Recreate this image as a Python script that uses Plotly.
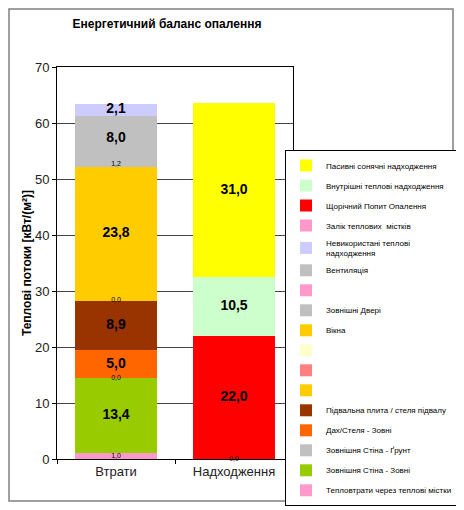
import plotly.graph_objects as go

categories = ["Втрати", "Надходження"]

series_names = [
    "Тепловтрати через теплові містки",
    "Зовнішня Стіна - Зовні",
    "Зовнішня Стіна - Ґрунт",
    "Дах/Стеля - Зовні",
    "Підвальна плита / стеля підвалу",
    " ",
    " ",
    " ",
    "Вікна",
    "Зовнішні Двері",
    " ",
    "Вентиляція",
    "Невикористані теплові<br>надходження",
    "Залік теплових  містків",
    "Щорічний Попит Опалення",
    "Внутрішні теплові надходження",
    "Пасивні сонячні надходження",
]

losses = [1.0, 13.4, 0.0, 5.0, 8.9, 0.0, None, None, 23.8, 1.2, None, 8.0, 2.1, None, None, None, None]
gains = [None, None, None, None, None, None, None, None, None, None, None, None, None, 0.0, 22.0, 10.5, 31.0]

colors = [
    "#FF99CC", "#99CC00", "#C0C0C0", "#FF6600", "#993300",
    "#FFCC00", "#FF8080", "#FFFFCC", "#FFCC00", "#C0C0C0",
    "#FF99CC", "#C0C0C0", "#CCCCFF", "#FF99CC", "#FF0000",
    "#CCFFCC", "#FFFF00",
]

FONT = "Arial, Liberation Sans, sans-serif"
N = len(series_names)

fig = go.Figure()
for i, name in enumerate(series_names):
    fig.add_trace(go.Bar(
        x=categories, y=[losses[i], gains[i]], name=name,
        marker=dict(color=colors[i], line=dict(width=0)),
        legendgroup=f"g{i}", legendrank=100 + (N - i),
        hoverinfo="skip",
    ))

# data labels at segment centres
big_x, big_y, big_t = [], [], []
sm_x, sm_y, sm_t = [], [], []
for ci, cat in enumerate(categories):
    base = 0.0
    for i in range(N):
        v = (losses, gains)[ci][i]
        if v is None:
            continue
        yc = base + v / 2
        txt = f"{v:.1f}".replace(".", ",")
        if v < 2:
            sm_x.append(cat); sm_y.append(yc); sm_t.append(txt)
        else:
            big_x.append(cat); big_y.append(yc); big_t.append(txt)
        base += v

fig.add_trace(go.Scatter(x=big_x, y=big_y, text=big_t, mode="text", showlegend=False,
                         textfont=dict(family=FONT, size=14, color="black", weight="bold"),
                         cliponaxis=False, hoverinfo="skip"))
fig.add_trace(go.Scatter(x=sm_x, y=sm_y, text=sm_t, mode="text", showlegend=False,
                         textfont=dict(family=FONT, size=7, color="black"),
                         cliponaxis=False, hoverinfo="skip"))

# page body has an 8px margin: work in screen coords minus 8
OFF = 8
W, H = 456, 502
L, T = 57 - OFF, 67 - OFF
PR, PB = 293 - OFF, 459 - OFF
R, B = W - PR, H - PB
pw, ph = PR - L, PB - T

def px(x):
    return (x - OFF - L) / pw

def py(y):
    return (PB - (y - OFF)) / ph

fig.add_shape(type="rect", xref="paper", yref="paper",
              x0=px(OFF + 1), x1=px(453), y0=py(501), y1=py(OFF + 1),
              line=dict(color="#808080", width=1.5), layer="below")

fig.update_layout(
    width=W, height=H,
    margin=dict(l=L, r=R, t=T, b=B, autoexpand=False),
    barmode="stack", bargap=0.3,
    paper_bgcolor="white", plot_bgcolor="white",
    font=dict(family=FONT, color="black"),
    title=dict(text="<b>Енергетичний баланс опалення</b>", x=(167 - OFF) / W, xanchor="center",
               y=1 - (24 - OFF) / H, yanchor="middle", font=dict(size=12, color="black")),
    legend=dict(x=px(285), y=py(150), xanchor="left", yanchor="top",
                traceorder="grouped", tracegroupgap=1, maxheight=420,
                bordercolor="black", borderwidth=1, bgcolor="white",
                font=dict(size=8, color="black"), itemwidth=30),
    xaxis=dict(showline=True, linecolor="black", linewidth=1, mirror=True,
               ticks="outside", tickson="boundaries", ticklen=4, tickcolor="black",
               tickfont=dict(size=13, color="#222")),
    yaxis=dict(range=[0, 70], dtick=10, showline=True, linecolor="black", linewidth=1,
               mirror=True, ticks="outside", ticklen=4, tickcolor="black",
               showgrid=True, gridcolor="#444", gridwidth=1, zeroline=False,
               tickfont=dict(size=13, color="#222"),
               title=dict(text="<b>Теплові потоки [кВт/(м²)]</b>", font=dict(size=12, color="black"),
                          standoff=0)),
)

fig.write_html("out.html")
